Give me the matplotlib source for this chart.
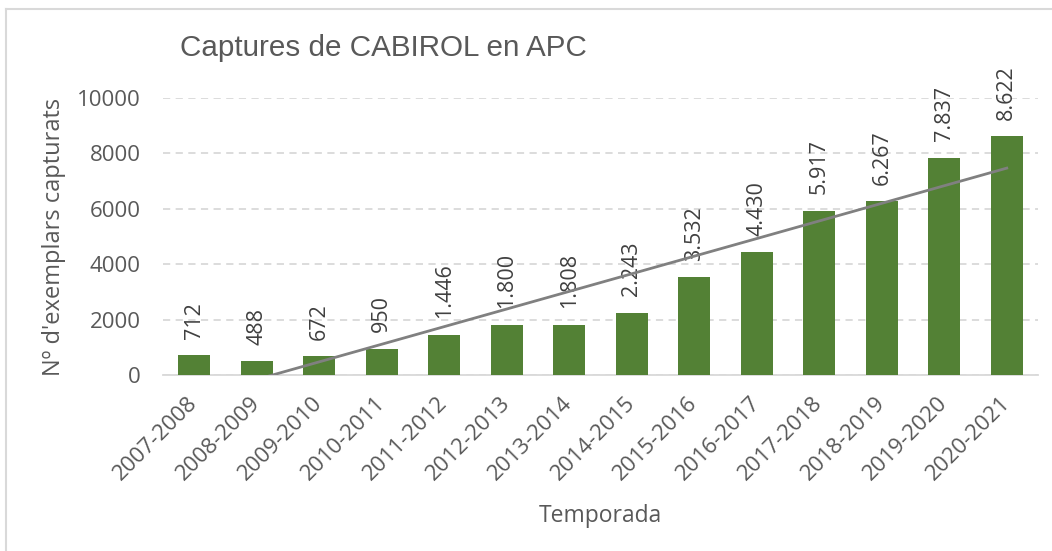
import numpy as np
import matplotlib
matplotlib.use('Agg')
import matplotlib.pyplot as plt
from matplotlib.lines import Line2D

temporades = ['2007-2008', '2008-2009', '2009-2010', '2010-2011', '2011-2012',
              '2012-2013', '2013-2014', '2014-2015', '2015-2016', '2016-2017',
              '2017-2018', '2018-2019', '2019-2020', '2020-2021']
captures = [712, 488, 672, 950, 1446, 1800, 1808, 2243, 3532, 4430,
            5917, 6267, 7837, 8622]
etiquetes = ['712', '488', '672', '950', '1.446', '1.800', '1.808', '2.243',
             '3.532', '4.430', '5.917', '6.267', '7.837', '8.622']

text_color = '#595959'
plt.rcParams['font.family'] = ['Open Sans', 'DejaVu Sans']

fig = plt.figure(figsize=(10.52, 5.51), dpi=100)
ax = fig.add_axes([0.155, 0.3194, 0.8317, 0.5026])

x = np.arange(len(temporades))
ax.bar(x, captures, width=0.51, color='#538135', zorder=3)

# linear trendline (as in Excel)
pend, ordenada = np.polyfit(x, captures, 1)
ax.plot(x, pend * x + ordenada, color='#808080', lw=2, zorder=4)

for xi, v, lab in zip(x, captures, etiquetes):
    ax.annotate(lab, (xi, v), xytext=(0, 12), textcoords='offset points',
                rotation=90, ha='center', va='bottom', fontsize=15.5,
                color='#404040', annotation_clip=False)

ax.set_xlim(-0.5, len(temporades) - 0.5)
ax.set_ylim(0, 10000)
ax.set_yticks(range(0, 10001, 2000))
ax.yaxis.grid(True, color='#d9d9d9', linestyle=(0, (4, 3)), lw=1.3, zorder=0)
for s in ['top', 'right', 'left']:
    ax.spines[s].set_visible(False)
ax.spines['bottom'].set_color('#d9d9d9')
ax.spines['bottom'].set_linewidth(1.3)

ax.tick_params(axis='y', length=0, pad=16, labelsize=16, labelcolor=text_color)
ax.tick_params(axis='x', length=0, pad=18, labelsize=16, labelcolor=text_color)
ax.set_xticks(x)
ax.set_xticklabels(temporades, rotation=45, ha='right', va='center',
                   rotation_mode='anchor')

ax.set_ylabel("Nº d'exemplars capturats", fontsize=17, color=text_color, labelpad=8)
ax.set_xlabel('Temporada', fontsize=16.5, color=text_color, labelpad=14)

fig.text(0.171, 0.913, 'Captures de CABIROL en APC', fontsize=21.3,
         color=text_color, family='Liberation Sans', va='center', ha='left')

# chart area border (only left/top visible in the crop)
fig.add_artist(Line2D([0.0057, 0.0057], [0, 0.983], transform=fig.transFigure,
                      color='#d9d9d9', lw=1.5))
fig.add_artist(Line2D([0.0057, 1], [0.983, 0.983], transform=fig.transFigure,
                      color='#d9d9d9', lw=1.5))

fig.savefig('out.png', dpi=100)
